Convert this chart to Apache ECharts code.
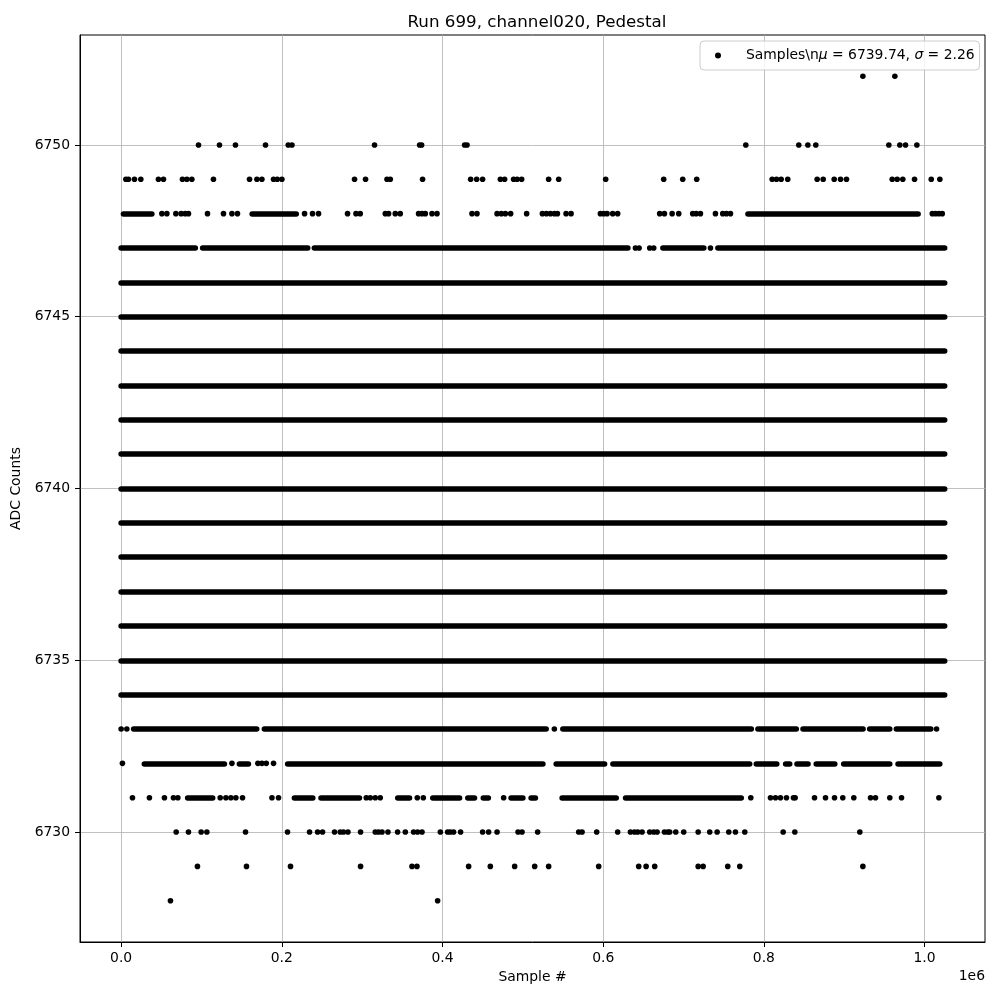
<!DOCTYPE html>
<html><head><meta charset="utf-8">
<script src="https://cdn.jsdelivr.net/npm/echarts@6/dist/echarts.min.js"></script>
<style>html,body{margin:0;padding:0;background:#fff}#c{width:1000px;height:1000px}</style>
</head><body><div id="c"></div>
<script>
// ---- data (sample index, ADC level) ----
const xTicks = [0, 200000, 400000, 600000, 800000, 1000000];
const yTicks = [6730, 6735, 6740, 6745, 6750];
const xRange = [-51200, 1075200];
const yRange = [6726.8, 6753.2];

// levels that are continuously populated over the whole run
const fullLevels = [6734, 6735, 6736, 6737, 6738, 6739, 6740, 6741, 6742, 6743, 6744, 6745, 6746];
const fullSpan = [0, 1025000];

// densely populated stretches of partly filled levels [from, to]
const seg6748 = [[2900, 38200], [163100, 217900], [780200, 991900]];
const seg6747 = [[0, 92300], [101500, 232200], [240500, 630700], [674300, 725200], [742800, 1025000]];
const seg6733 = [[15600, 168700], [178300, 529000], [549800, 784300], [792600, 840300], [848700, 923400], [931700, 956600], [964900, 1007700]];
const seg6732 = [[28900, 128500], [147200, 158400], [207300, 524900], [541500, 601700], [612100, 782300], [790600, 816000], [827100, 832100], [841200, 854900], [865200, 888200], [899400, 956600], [967000, 1018900]];
const seg6731 = [[82800, 113900], [215700, 238500], [248800, 296600], [344300, 358900], [387900, 421200], [431500, 439800], [450800, 457000], [485400, 500000], [510300, 515600], [548900, 616200], [627900, 771800]];

// isolated samples (sample index) per level
const pts6752 = [923200, 963000];
const pts6750 = [96300, 122400, 142300, 179700, 208000, 212600, 315400, 371500, 374000, 427500, 430500, 777500, 843400, 854700, 864600, 955500, 969200, 976300, 990400];
const pts6749 = [5900, 9100, 16600, 24500, 46400, 52700, 76300, 81800, 88000, 114900, 159800, 169000, 175200, 189700, 194300, 200100, 290500, 304200, 330900, 335000, 375200, 435000, 442500, 449900, 472000, 477300, 488500, 492800, 498500, 532100, 544600, 603100, 675300, 699000, 716400, 810300, 815700, 821500, 829700, 866300, 873800, 887500, 895400, 902800, 959700, 965900, 972900, 987500, 1008300, 1019000];
const pts6748 = [50700, 56900, 68100, 74700, 79700, 83800, 107500, 127400, 137900, 144800, 228300, 238200, 245700, 281800, 292300, 297600, 328800, 332900, 341200, 347400, 370200, 374500, 378600, 386900, 393100, 436700, 442900, 467900, 473200, 478200, 484800, 504700, 524300, 529300, 534300, 539200, 543000, 553800, 560000, 596500, 600600, 604800, 611800, 618000, 670300, 676200, 685800, 694000, 711400, 715700, 721000, 739700, 748800, 753400, 758400, 1009600, 1013700, 1017800, 1022000];
const pts6747 = [640100, 644700, 657900, 662900, 733500];
const pts6733 = [0, 7100, 539200, 1014900];
const pts6732 = [1600, 137900, 170200, 175200, 180600, 189700];
const pts6731 = [14100, 35200, 53900, 65100, 70600, 123300, 130400, 136600, 142800, 151100, 187700, 195900, 305100, 310100, 316300, 322500, 368600, 376100, 476100, 783700, 808200, 814400, 820600, 828100, 836800, 838900, 863000, 876700, 887900, 898200, 911900, 932700, 938900, 956700, 971300, 1017800];
const pts6730 = [68500, 83800, 99600, 106700, 154800, 207100, 234500, 244500, 250700, 265600, 272700, 276800, 282300, 298000, 316300, 320400, 324700, 332100, 344100, 353700, 364000, 369000, 374500, 397300, 406300, 409700, 413800, 422500, 449900, 457400, 467900, 494000, 499000, 518400, 569500, 573700, 591900, 618000, 633900, 638900, 643000, 648400, 657900, 662900, 667100, 676200, 680300, 682800, 690300, 700200, 718200, 732600, 741800, 756300, 764600, 776200, 824000, 838500, 919400];
const pts6729 = [95000, 156000, 210800, 298000, 362000, 368200, 432500, 459500, 489800, 514700, 532100, 594400, 644200, 653400, 664100, 718200, 724400, 755000, 770000, 923200];
const pts6728 = [61400, 393900];

const titleText = 'Run 699, channel020, Pedestal';
const seriesName = 'Samples';
const legendText = 'Samples\\n{it|\u03bc} = 6739.74, {it|\u03c3} = 2.26';

// ---- build library data ----
const segData = [];
function addSegs(level, segs) { segs.forEach(s => segData.push({ coords: [[s[0], level], [s[1], level]] })); }
fullLevels.forEach(l => addSegs(l, [fullSpan]));
addSegs(6748, seg6748); addSegs(6747, seg6747); addSegs(6733, seg6733); addSegs(6732, seg6732); addSegs(6731, seg6731);

const ptData = [];
function addPts(level, xs) { xs.forEach(x => ptData.push([x, level])); }
addPts(6752, pts6752); addPts(6750, pts6750); addPts(6749, pts6749); addPts(6748, pts6748); addPts(6747, pts6747);
addPts(6733, pts6733); addPts(6732, pts6732); addPts(6731, pts6731); addPts(6730, pts6730); addPts(6729, pts6729); addPts(6728, pts6728);

const FONT = 'DejaVu Sans';
const DOT = 5.6;
const chart = echarts.init(document.getElementById('c'), null, { renderer: 'canvas' });
chart.setOption({
  animation: false,
  backgroundColor: '#fff',
  title: {
    text: titleText, left: 532, top: 9, textAlign: 'center',
    textStyle: { fontFamily: FONT, fontSize: 16.7, fontWeight: 'normal', color: '#000' }
  },
  grid: { left: 80, right: 15, top: 35, bottom: 58, show: true, borderColor: '#000', borderWidth: 1, backgroundColor: 'transparent' },
  legend: {
    data: [{ name: seriesName, icon: 'circle' }],
    left: 700, top: 41, orient: 'vertical',
    padding: [6, 5, 6, 15], itemWidth: 6, itemHeight: 6,
    backgroundColor: 'rgba(255,255,255,0.8)', borderColor: '#cccccc', borderWidth: 1, borderRadius: 4,
    selectedMode: false,
    formatter: () => '{sp|}' + legendText,
    textStyle: {
      fontFamily: FONT, fontSize: 13.9, color: '#000', lineHeight: 17,
      rich: { sp: { width: 20 }, it: { fontStyle: 'italic', fontFamily: FONT, fontSize: 13.9 } }
    }
  },
  xAxis: {
    type: 'value', min: xRange[0], max: xRange[1],
    name: 'Sample #', nameLocation: 'middle', nameGap: 28,
    nameTextStyle: { fontFamily: FONT, fontSize: 13.9, color: '#000' },
    axisLine: { show: true, onZero: false, lineStyle: { color: '#000', width: 1 } },
    axisTick: { show: true, customValues: xTicks, length: 5, lineStyle: { color: '#000', width: 1 } },
    axisLabel: { customValues: xTicks, formatter: v => (v / 1e6).toFixed(1), fontFamily: FONT, fontSize: 13.9, color: '#000', margin: 9 },
    splitLine: { show: true, lineStyle: { color: '#b0b0b0', width: 0.8 } }
  },
  yAxis: {
    type: 'value', min: yRange[0], max: yRange[1],
    name: 'ADC Counts', nameLocation: 'middle', nameGap: 50,
    nameTextStyle: { fontFamily: FONT, fontSize: 13.9, color: '#000' },
    axisLine: { show: true, onZero: false, lineStyle: { color: '#000', width: 1 } },
    axisTick: { show: true, customValues: yTicks, length: 5, lineStyle: { color: '#000', width: 1 } },
    axisLabel: { customValues: yTicks, formatter: v => String(v), fontFamily: FONT, fontSize: 13.9, color: '#000', margin: 10 },
    splitLine: { show: true, lineStyle: { color: '#b0b0b0', width: 0.8 } }
  },
  graphic: [{
    type: 'text', right: 15, top: 969,
    style: { text: '1e6', fontFamily: FONT, fontSize: 13.9, fill: '#000' }
  }],
  series: [
    {
      name: seriesName, type: 'scatter', data: ptData, symbol: 'circle', symbolSize: DOT,
      itemStyle: { color: '#000', opacity: 1 }, silent: true, z: 3
    },
    {
      name: seriesName, type: 'lines', coordinateSystem: 'cartesian2d', polyline: false, data: segData,
      lineStyle: { color: '#000', width: DOT, cap: 'round', opacity: 1, curveness: 0 },
      effect: { show: false }, silent: true, z: 3
    }
  ]
});
</script></body></html>
